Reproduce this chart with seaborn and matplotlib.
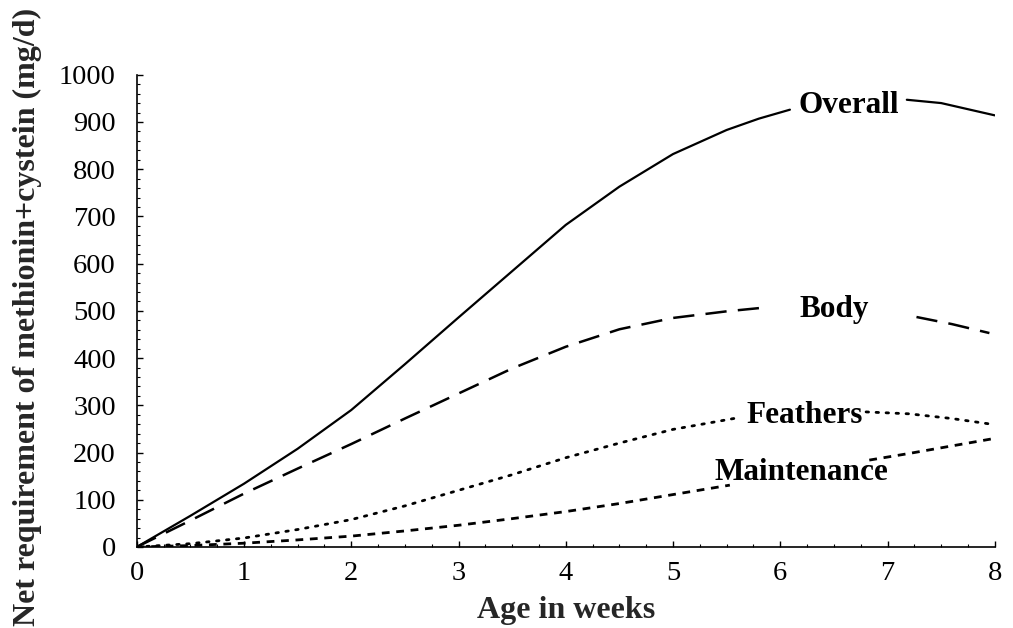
import numpy as np
import pandas as pd
import matplotlib
matplotlib.use("Agg")
import matplotlib.pyplot as plt
import seaborn as sns
from matplotlib.ticker import MultipleLocator

# ---- data ----
overall_x = [0, 0.5, 1, 1.5, 2, 2.5, 3, 3.5, 4, 4.5, 5, 5.5, 5.8, 6.09, 7.18, 7.5, 8]
overall_y = [0, 66, 134, 208, 290, 387, 486, 584, 682, 763, 832, 883, 907, 926, 947, 940, 914]
overall_seg = [0] * 14 + [1] * 3

body_x = [0, 0.5, 1, 1.5, 2, 2.5, 3, 3.5, 4, 4.5, 5, 5.5, 5.81, 7.27, 7.6, 7.95]
body_y = [0, 56, 113, 166, 218, 272, 325, 378, 424, 461, 485, 499, 506, 487, 472, 453]
body_seg = [0] * 13 + [1] * 3

feathers_x = [0, 0.5, 1, 1.5, 2, 2.5, 3, 3.5, 4, 4.5, 5, 5.59, 6.8, 7.2, 7.6, 8]
feathers_y = [0, 7, 19, 37, 58, 87, 120, 153, 189, 220, 249, 273, 286, 282, 272, 259]
feathers_seg = [0] * 12 + [1] * 4

maint_x = [0, 0.5, 1, 1.5, 2, 2.5, 3, 3.5, 4, 4.5, 5, 5.53, 6.83, 7.2, 7.6, 8]
maint_y = [0, 3, 8, 15, 23, 34, 46, 60, 75, 92, 111, 131, 184, 198, 214, 230]
maint_seg = [0] * 12 + [1] * 4

labels = ["Overall", "Body", "Feathers", "Maintenance"]
label_x = [6.64, 6.5, 6.23, 6.2]
label_y = [919, 487, 263, 142]

x_ticks = [0, 1, 2, 3, 4, 5, 6, 7, 8]
y_ticks = [0, 100, 200, 300, 400, 500, 600, 700, 800, 900, 1000]

# ---- style ----
sns.set_theme(style="ticks")
plt.rcParams["font.family"] = ["Liberation Serif", "DejaVu Serif"]
plt.rcParams["axes.edgecolor"] = "black"

fig = plt.figure(figsize=(10.13, 6.28), dpi=100)
ax = fig.add_axes([0.135, 0.129, 0.847, 0.752])

def frame(xs, ys, segs):
    return pd.DataFrame({"week": xs, "value": ys, "seg": segs})

common = dict(x="week", y="value", units="seg", estimator=None, color="black",
              legend=False, ax=ax, sort=False)

sns.lineplot(data=frame(overall_x, overall_y, overall_seg), linewidth=1.6,
             linestyle="-", **common)
sns.lineplot(data=frame(body_x, body_y, body_seg), linewidth=1.8,
             linestyle=(0, (8.5, 4.5)), **common)
sns.lineplot(data=frame(feathers_x, feathers_y, feathers_seg), linewidth=2.0,
             linestyle=(0, (0.9, 2.7)), dash_capstyle="round", **common)
sns.lineplot(data=frame(maint_x, maint_y, maint_seg), linewidth=2.0,
             linestyle=(0, (2.8, 2.4)), **common)

for t, x, y in zip(labels, label_x, label_y):
    ax.text(x, y, t, ha="center", va="baseline", fontsize=22.5,
            fontweight="bold", color="black")

ax.set_xlim(0, 8)
ax.set_ylim(0, 1000)
ax.set_xticks(x_ticks)
ax.set_yticks(y_ticks)
ax.xaxis.set_minor_locator(MultipleLocator(0.25))
ax.yaxis.set_minor_locator(MultipleLocator(20))
ax.tick_params(axis="both", which="major", direction="in", length=4, width=1,
               labelsize=20.5, colors="black")
ax.tick_params(axis="both", which="minor", direction="in", length=2.5, width=0.8,
               colors="black")
ax.tick_params(axis="x", which="major", pad=10)
ax.tick_params(axis="y", which="major", pad=15)

sns.despine(ax=ax)
for s in ("left", "bottom"):
    ax.spines[s].set_linewidth(1.2)

ax.set_xlabel("Age in weeks", fontsize=23, fontweight="bold")
ax.set_ylabel("Net requirement of methionin+cystein (mg/d)", fontsize=23,
              fontweight="bold")
ax.xaxis.set_label_coords(0.5, -0.103)
ax.yaxis.set_label_coords(-0.111, 0.487)

fig.savefig("out.png", dpi=100, facecolor="white")
